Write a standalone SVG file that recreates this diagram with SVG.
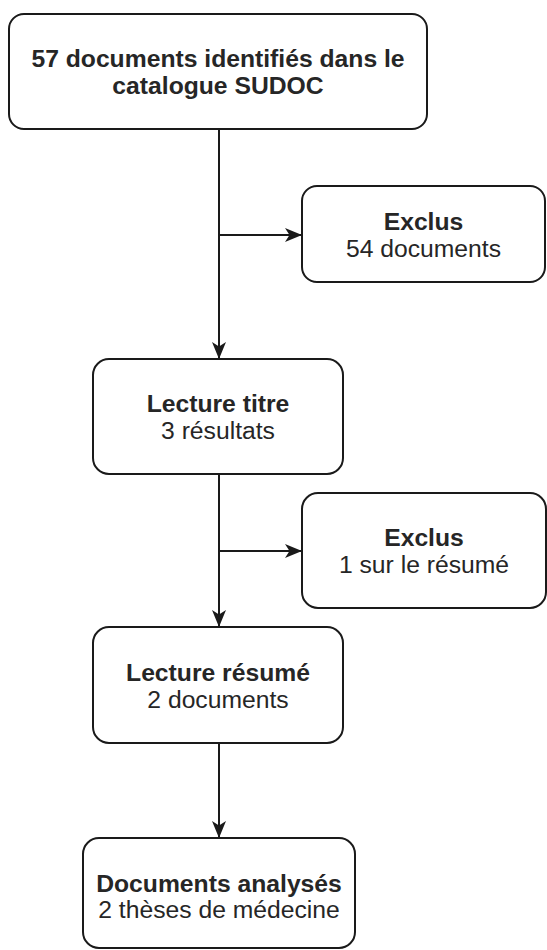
<svg xmlns="http://www.w3.org/2000/svg" width="547" height="950" viewBox="0 0 547 950">
<style>
.box{fill:#fff;stroke:#1a1a1a;stroke-width:2}
.t{font-family:"Liberation Sans",Arial,sans-serif;font-size:24.7px;fill:#262626;text-anchor:middle}
.b{font-weight:bold}
.c{fill:none;stroke:#1a1a1a;stroke-width:2}
</style>
<defs>
<marker id="ah" viewBox="0 0 17 14" refX="17" refY="7" markerWidth="17" markerHeight="14" markerUnits="userSpaceOnUse" orient="auto">
<path d="M0,0 L17,7 L0,14 L4.5,7 Z" fill="#1a1a1a"/>
</marker>
</defs>
<rect width="547" height="950" fill="#fff"/>
<g id="connectors">
<path class="c" d="M219,129 V359" marker-end="url(#ah)"/>
<path class="c" d="M219,235 H302" marker-end="url(#ah)"/>
<path class="c" d="M219,474 V627" marker-end="url(#ah)"/>
<path class="c" d="M219,551 H302" marker-end="url(#ah)"/>
<path class="c" d="M219,743 V838" marker-end="url(#ah)"/>
</g>
<g id="n1">
<rect class="box" x="9" y="14" width="418" height="115" rx="15"/>
<text class="t b" x="218" y="67">57 documents identifiés dans le</text>
<text class="t b" x="218" y="93.5">catalogue SUDOC</text>
</g>
<g id="n2">
<rect class="box" x="302" y="186" width="243" height="96" rx="15"/>
<text class="t b" x="423.5" y="229.5">Exclus</text>
<text class="t" x="423.5" y="256.5">54 documents</text>
</g>
<g id="n3">
<rect class="box" x="93" y="359" width="250" height="115" rx="16"/>
<text class="t b" x="218" y="412">Lecture titre</text>
<text class="t" x="218" y="438.5">3 résultats</text>
</g>
<g id="n4">
<rect class="box" x="302" y="493" width="244" height="115" rx="16"/>
<text class="t b" x="424" y="546">Exclus</text>
<text class="t" x="424" y="572.5">1 sur le résumé</text>
</g>
<g id="n5">
<rect class="box" x="93" y="627" width="250" height="116" rx="16"/>
<text class="t b" x="218" y="681">Lecture résumé</text>
<text class="t" x="218" y="707.5">2 documents</text>
</g>
<g id="n6">
<rect class="box" x="83" y="838" width="272" height="110" rx="16"/>
<text class="t b" x="219" y="891.5">Documents analysés</text>
<text class="t" x="219" y="918">2 thèses de médecine</text>
</g>
</svg>
